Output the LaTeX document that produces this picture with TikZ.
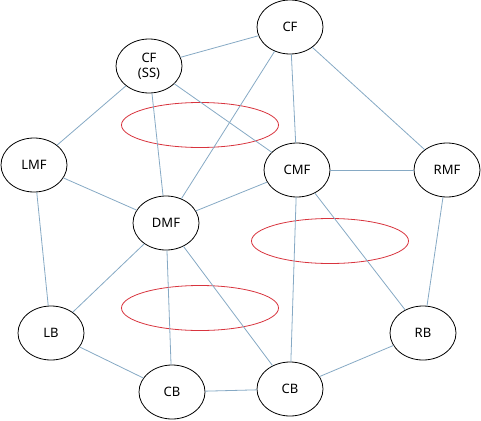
\documentclass[tikz,border=0pt]{standalone}
\usepackage{fontspec}
\setmainfont{Noto Sans}
\usetikzlibrary{shapes.geometric}
\definecolor{clink}{HTML}{86A9C4}
\definecolor{czone}{HTML}{D8343E}
\tikzset{
  every picture/.style={x=1pt, y=-1pt, line width=0.8pt},
  player/.style={ellipse, draw=black, fill=white, minimum width=66pt, minimum height=54pt, inner sep=0pt, align=center, font=\fontsize{13}{15}\selectfont},
  link/.style={draw=clink, line width=0.8pt},
  zone/.style={ellipse, draw=czone, minimum width=157pt, minimum height=45pt, inner sep=0pt},
}
\begin{document}
\begin{tikzpicture}
  \useasboundingbox (0,0) rectangle (481,420);
  % free zones
  \node[zone] (ztop) at (200,125) {};
  \node[zone] (zmid) at (330,241) {};
  \node[zone] (zbot) at (200,308) {};
  % players
  \node[player] (cf) at (290,27) {CF};
  \node[player] (cfss) at (149,66) {CF\\(SS)};
  \node[player] (lmf) at (34,165) {LMF};
  \node[player] (dmf) at (166,223) {DMF};
  \node[player] (cmf) at (297,170) {CMF};
  \node[player] (rmf) at (447,170) {RMF};
  \node[player] (lb) at (51,333) {LB};
  \node[player] (cbl) at (172,392) {CB};
  \node[player] (cbr) at (290,389) {CB};
  \node[player] (rb) at (423,333) {RB};
  % passing lines
  \foreach \a/\b in {cfss/cf, cfss/lmf, cfss/dmf, cfss/cmf, cf/dmf, cf/cmf, cf/rmf,
    lmf/dmf, lmf/lb, dmf/cmf, dmf/lb, dmf/cbl, dmf/cbr, cmf/rmf, cmf/cbr, cmf/rb,
    rmf/rb, lb/cbl, cbl/cbr, cbr/rb}
    \draw[link] (\a) -- (\b);
\end{tikzpicture}
\end{document}
